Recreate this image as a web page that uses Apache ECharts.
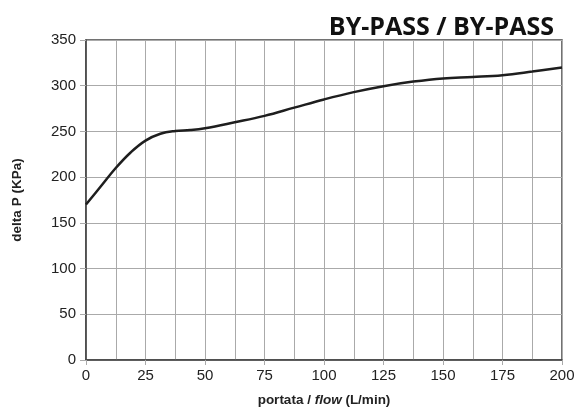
<!DOCTYPE html>
<html>
<head>
<meta charset="utf-8">
<script src="https://cdn.jsdelivr.net/npm/echarts@6/dist/echarts.min.js"></script>
<style>html,body{margin:0;padding:0;background:#fff}#c{width:587px;height:415px}</style>
</head>
<body>
<div id="c"></div>
<script>
const titleText = 'BY-PASS / BY-PASS';
const flow = [0, 6.25, 12.5, 18.75, 25, 31.25, 37.5, 43.75, 50, 62.5, 75, 87.5, 100, 112.5, 125, 137.5, 150, 162.5, 175, 187.5, 200];
const deltaP = [170, 190, 210, 227, 240, 247.5, 250.5, 251.5, 253.5, 260, 267, 276, 285, 293, 299.5, 304.5, 308, 309.5, 311.5, 315.5, 320];

const chart = echarts.init(document.getElementById('c'));
chart.setOption({
  animation: false,
  backgroundColor: '#fff',
  title: {
    text: titleText,
    right: 28, top: 10,
    textStyle: { fontFamily: 'Open Sans', fontWeight: 'bold', fontSize: 25, color: '#111' }
  },
  grid: { left: 86, right: 25, top: 40, bottom: 55, show: true, borderColor: '#444', borderWidth: 1.5 },
  xAxis: {
    type: 'value', min: 0, max: 200, interval: 25,
    name: '{b|portata / }{i|flow}{b| (L/min)}',
    nameLocation: 'middle', nameGap: 33,
    nameTextStyle: { rich: {
      b: { fontFamily: 'Liberation Sans', fontWeight: 'bold', fontSize: 13.5, color: '#222' },
      i: { fontFamily: 'Liberation Sans', fontWeight: 'bold', fontStyle: 'italic', fontSize: 13.5, color: '#222' }
    } },
    axisLine: { show: true, lineStyle: { color: '#444', width: 1.5 } },
    axisTick: { show: true, length: 5, lineStyle: { color: '#aaa' } },
    axisLabel: { fontFamily: 'Liberation Sans', fontSize: 15, color: '#222', margin: 8 },
    splitLine: { show: true, lineStyle: { color: '#aaa', width: 1 } },
    minorTick: { show: false, splitNumber: 2 },
    minorSplitLine: { show: true, lineStyle: { color: '#aaa', width: 1 } }
  },
  yAxis: {
    type: 'value', min: 0, max: 350, interval: 50,
    name: 'delta P (KPa)',
    nameLocation: 'middle', nameGap: 62,
    nameTextStyle: { fontFamily: 'Liberation Sans', fontWeight: 'bold', fontSize: 13.5, color: '#222' },
    axisLine: { show: true, lineStyle: { color: '#444', width: 1.5 } },
    axisTick: { show: true, length: 6, lineStyle: { color: '#aaa' } },
    axisLabel: { fontFamily: 'Liberation Sans', fontSize: 15, color: '#222', margin: 10 },
    splitLine: { show: true, lineStyle: { color: '#aaa', width: 1 } }
  },
  series: [{
    type: 'line',
    data: flow.map((x, i) => [x, deltaP[i]]),
    smooth: 0.4,
    showSymbol: false,
    lineStyle: { color: '#1e1e1e', width: 2.5 }
  }]
});
</script>
</body>
</html>
